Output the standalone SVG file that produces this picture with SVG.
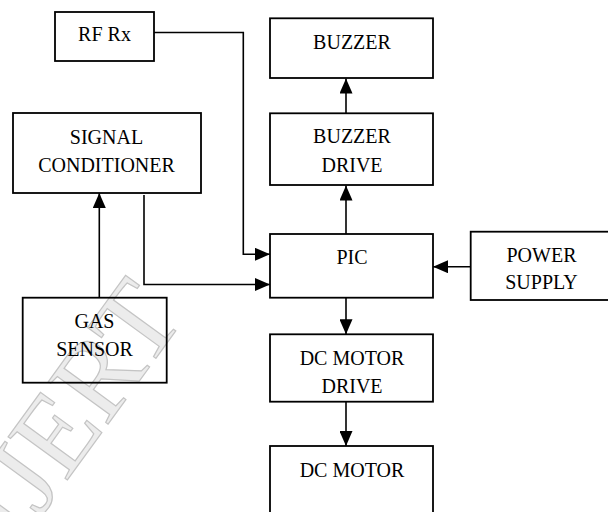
<svg xmlns="http://www.w3.org/2000/svg" width="608" height="512" viewBox="0 0 608 512">
<style>
.box{fill:none;stroke:#000;stroke-width:1.8}
.lbl{font-family:"Liberation Serif","Times New Roman",serif;font-size:20px;fill:#000;text-anchor:middle}
.wire{fill:none;stroke:#000;stroke-width:1.6;marker-end:url(#ah)}
.wm{font-family:"Liberation Serif","Times New Roman",serif;font-size:112px;fill:#ececec;stroke:#c4c4c4;stroke-width:1.2}
</style>
<defs>
<marker id="ah" markerUnits="userSpaceOnUse" markerWidth="15" markerHeight="13" refX="15" refY="6.5" orient="auto">
<path d="M0,0 L15,6.5 L0,13 Z" fill="#000"/>
</marker>
</defs>
<rect width="608" height="512" fill="#fff"/>
<text class="wm" transform="translate(18,548) rotate(-54)">IJERT</text>
<g id="connectors">
<path class="wire" d="M154,32.5 H243.3 V254.3 H270"/>
<path class="wire" d="M144,195 V284.5 H270"/>
<path class="wire" d="M99.3,297.7 V193"/>
<path class="wire" d="M346,234 V185.5"/>
<path class="wire" d="M346,113.3 V78.5"/>
<path class="wire" d="M470.7,266.7 H433"/>
<path class="wire" d="M346,297.7 V334.3"/>
<path class="wire" d="M346,401.7 V446"/>
</g>
<g id="rf-rx"><rect class="box" x="55" y="12" width="99" height="49"/><text class="lbl" x="104.5" y="41">RF Rx</text></g>
<g id="signal-conditioner"><rect class="box" x="13" y="113" width="188" height="80"/><text class="lbl" x="106.5" y="144">SIGNAL</text><text class="lbl" x="106.5" y="172">CONDITIONER</text></g>
<g id="gas-sensor"><rect class="box" x="22.7" y="297.7" width="144" height="85"/><text class="lbl" x="94.5" y="328">GAS</text><text class="lbl" x="94.5" y="355.5">SENSOR</text></g>
<g id="buzzer"><rect class="box" x="270" y="18.3" width="163" height="59.7"/><text class="lbl" x="352" y="49">BUZZER</text></g>
<g id="buzzer-drive"><rect class="box" x="270" y="113.3" width="163" height="71.7"/><text class="lbl" x="352" y="143">BUZZER</text><text class="lbl" x="352" y="171.5">DRIVE</text></g>
<g id="pic"><rect class="box" x="270" y="234" width="163" height="63.7"/><text class="lbl" x="352" y="264">PIC</text></g>
<g id="power-supply"><rect class="box" x="470.7" y="231.7" width="140" height="68.3"/><text class="lbl" x="541.5" y="262">POWER</text><text class="lbl" x="541.5" y="289">SUPPLY</text></g>
<g id="dc-motor-drive"><rect class="box" x="270" y="334.3" width="163" height="67.4"/><text class="lbl" x="352" y="365">DC MOTOR</text><text class="lbl" x="352" y="392.5">DRIVE</text></g>
<g id="dc-motor"><rect class="box" x="270" y="446" width="163" height="80"/><text class="lbl" x="352" y="477">DC MOTOR</text></g>
</svg>
